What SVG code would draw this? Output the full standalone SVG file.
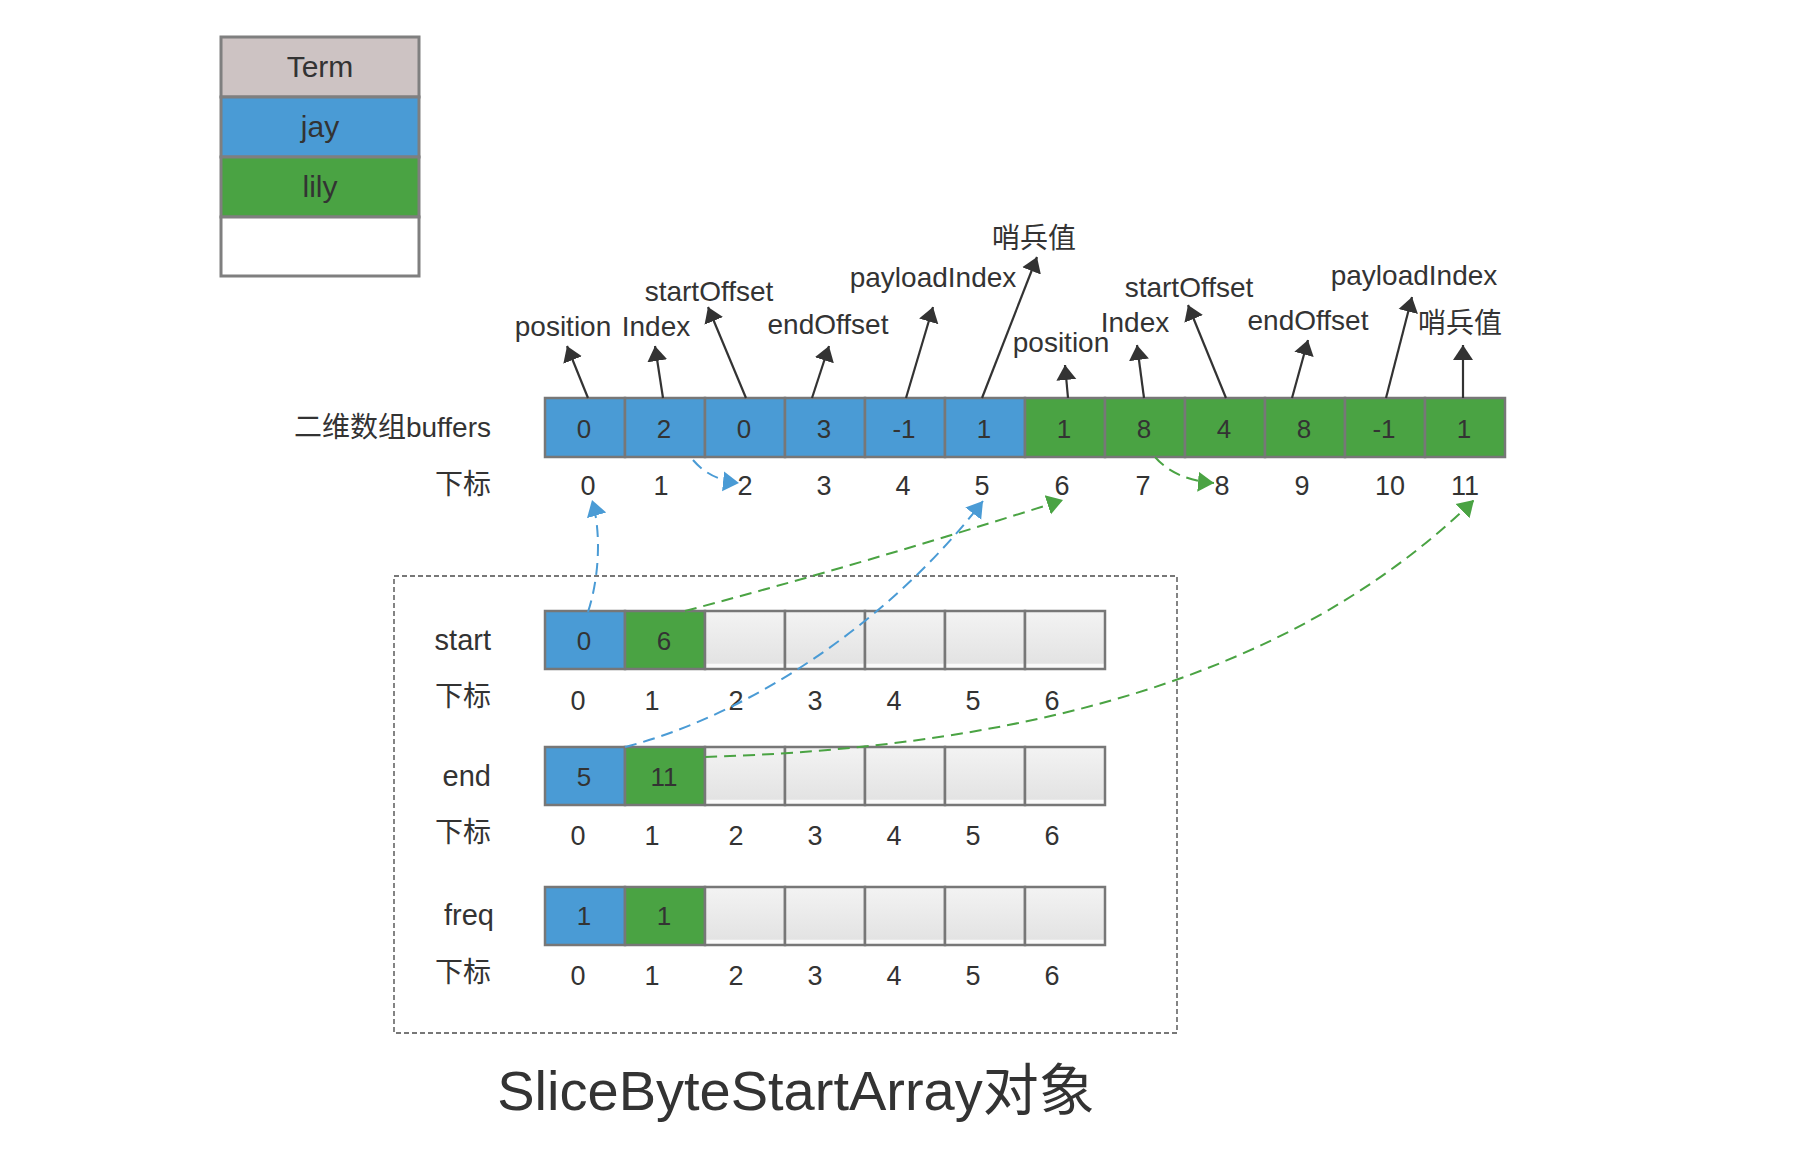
<svg xmlns="http://www.w3.org/2000/svg" width="1818" height="1170" viewBox="0 0 1818 1170">
<style>
text{font-family:"Liberation Sans","Noto Sans CJK SC",sans-serif;fill:#333}
.c{text-anchor:middle}
.e{text-anchor:end}
.lg{font-size:30px}
.lbl{font-size:28px}
.nm{font-size:29px}
.d{font-size:26px}
.ix{font-size:27px}
.blue{fill:#4A9BD5;stroke:#777;stroke-width:2.5}
.green{fill:#4AA343;stroke:#777;stroke-width:2.5}
.empty{fill:url(#eg);stroke:#777;stroke-width:2.5}
.ar{stroke:#333;stroke-width:2.2;fill:none;marker-end:url(#mk)}
.db{stroke:#4A9BD5;stroke-width:2;fill:none;stroke-dasharray:12 7;marker-end:url(#mb)}
.dg{stroke:#4AA343;stroke-width:2;fill:none;stroke-dasharray:12 7;marker-end:url(#mg)}
</style>
<defs>
<linearGradient id="eg" x1="0" y1="0" x2="0" y2="1">
<stop offset="0" stop-color="#f3f3f3"/>
<stop offset="0.9" stop-color="#e3e3e3"/>
<stop offset="0.92" stop-color="#fafafa"/>
<stop offset="1" stop-color="#fafafa"/>
</linearGradient>
<marker id="mk" markerUnits="userSpaceOnUse" markerWidth="18" markerHeight="24" refX="15" refY="11" orient="auto"><path d="M0,1 L15,11 L0,21 z" fill="#333"/></marker>
<marker id="mb" markerUnits="userSpaceOnUse" markerWidth="19" markerHeight="24" refX="16" refY="11" orient="auto"><path d="M0,1 L16,11 L0,21 z" fill="#4A9BD5"/></marker>
<marker id="mg" markerUnits="userSpaceOnUse" markerWidth="19" markerHeight="24" refX="16" refY="11" orient="auto"><path d="M0,1 L16,11 L0,21 z" fill="#4AA343"/></marker>
</defs>
<rect width="1818" height="1170" fill="#fff"/>

<g id="legend">
<rect x="221" y="37" width="198" height="60" fill="#CDC3C3" stroke="#7f7f7f" stroke-width="3"/>
<rect x="221" y="97" width="198" height="60" fill="#4A9BD5" stroke="#7f7f7f" stroke-width="3"/>
<rect x="221" y="157" width="198" height="60" fill="#4AA343" stroke="#7f7f7f" stroke-width="3"/>
<rect x="221" y="217" width="198" height="59" fill="#fff" stroke="#7f7f7f" stroke-width="3"/>
<text class="lg c" x="320" y="77">Term</text>
<text class="lg c" x="320" y="137">jay</text>
<text class="lg c" x="320" y="197">lily</text>
</g>

<g id="buffers">
<text class="lbl e" x="491" y="437">二维数组buffers</text>
<rect class="blue" x="545" y="398" width="80" height="59"/>
<rect class="blue" x="625" y="398" width="80" height="59"/>
<rect class="blue" x="705" y="398" width="80" height="59"/>
<rect class="blue" x="785" y="398" width="80" height="59"/>
<rect class="blue" x="865" y="398" width="80" height="59"/>
<rect class="blue" x="945" y="398" width="80" height="59"/>
<rect class="green" x="1025" y="398" width="80" height="59"/>
<rect class="green" x="1105" y="398" width="80" height="59"/>
<rect class="green" x="1185" y="398" width="80" height="59"/>
<rect class="green" x="1265" y="398" width="80" height="59"/>
<rect class="green" x="1345" y="398" width="80" height="59"/>
<rect class="green" x="1425" y="398" width="80" height="59"/>
<g class="d">
<text class="c" x="584" y="438">0</text>
<text class="c" x="664" y="438">2</text>
<text class="c" x="744" y="438">0</text>
<text class="c" x="824" y="438">3</text>
<text class="c" x="904" y="438">-1</text>
<text class="c" x="984" y="438">1</text>
<text class="c" x="1064" y="438">1</text>
<text class="c" x="1144" y="438">8</text>
<text class="c" x="1224" y="438">4</text>
<text class="c" x="1304" y="438">8</text>
<text class="c" x="1384" y="438">-1</text>
<text class="c" x="1464" y="438">1</text>
</g>
<text class="lbl e" x="491" y="494">下标</text>
<g class="ix">
<text class="c" x="588" y="495">0</text>
<text class="c" x="661" y="495">1</text>
<text class="c" x="745" y="495">2</text>
<text class="c" x="824" y="495">3</text>
<text class="c" x="903" y="495">4</text>
<text class="c" x="982" y="495">5</text>
<text class="c" x="1062" y="495">6</text>
<text class="c" x="1143" y="495">7</text>
<text class="c" x="1222" y="495">8</text>
<text class="c" x="1302" y="495">9</text>
<text class="c" x="1390" y="495">10</text>
<text class="c" x="1465" y="495">11</text>
</g>
</g>

<g id="annotations" class="lbl">
<text class="c" x="563" y="336">position</text>
<text class="c" x="656" y="336">Index</text>
<text class="c" x="709" y="301">startOffset</text>
<text class="c" x="828" y="334">endOffset</text>
<text class="c" x="933" y="287">payloadIndex</text>
<text class="c" x="1034" y="248">哨兵值</text>
<text class="c" x="1061" y="352">position</text>
<text class="c" x="1135" y="332">Index</text>
<text class="c" x="1189" y="297">startOffset</text>
<text class="c" x="1308" y="330">endOffset</text>
<text class="c" x="1414" y="285">payloadIndex</text>
<text class="c" x="1460" y="333">哨兵值</text>
</g>

<g id="slice-box">
<rect x="394" y="576" width="783" height="457" fill="none" stroke="#777" stroke-width="1.8" stroke-dasharray="5 3"/>
</g>

<g id="start-array">
<text class="nm e" x="491" y="650">start</text>
<rect class="blue" x="545" y="611" width="80" height="58"/>
<rect class="green" x="625" y="611" width="80" height="58"/>
<rect class="empty" x="705" y="611" width="80" height="58"/>
<rect class="empty" x="785" y="611" width="80" height="58"/>
<rect class="empty" x="865" y="611" width="80" height="58"/>
<rect class="empty" x="945" y="611" width="80" height="58"/>
<rect class="empty" x="1025" y="611" width="80" height="58"/>
<text class="d c" x="584" y="650">0</text>
<text class="d c" x="664" y="650">6</text>
<text class="lbl e" x="491" y="706">下标</text>
<g class="ix">
<text class="c" x="578" y="710">0</text>
<text class="c" x="652" y="710">1</text>
<text class="c" x="736" y="710">2</text>
<text class="c" x="815" y="710">3</text>
<text class="c" x="894" y="710">4</text>
<text class="c" x="973" y="710">5</text>
<text class="c" x="1052" y="710">6</text>
</g>
</g>

<g id="end-array">
<text class="nm e" x="491" y="786">end</text>
<rect class="blue" x="545" y="747" width="80" height="58"/>
<rect class="green" x="625" y="747" width="80" height="58"/>
<rect class="empty" x="705" y="747" width="80" height="58"/>
<rect class="empty" x="785" y="747" width="80" height="58"/>
<rect class="empty" x="865" y="747" width="80" height="58"/>
<rect class="empty" x="945" y="747" width="80" height="58"/>
<rect class="empty" x="1025" y="747" width="80" height="58"/>
<text class="d c" x="584" y="786">5</text>
<text class="d c" x="664" y="786">11</text>
<text class="lbl e" x="491" y="842">下标</text>
<g class="ix">
<text class="c" x="578" y="845">0</text>
<text class="c" x="652" y="845">1</text>
<text class="c" x="736" y="845">2</text>
<text class="c" x="815" y="845">3</text>
<text class="c" x="894" y="845">4</text>
<text class="c" x="973" y="845">5</text>
<text class="c" x="1052" y="845">6</text>
</g>
</g>

<g id="freq-array">
<text class="nm e" x="494" y="925">freq</text>
<rect class="blue" x="545" y="887" width="80" height="58"/>
<rect class="green" x="625" y="887" width="80" height="58"/>
<rect class="empty" x="705" y="887" width="80" height="58"/>
<rect class="empty" x="785" y="887" width="80" height="58"/>
<rect class="empty" x="865" y="887" width="80" height="58"/>
<rect class="empty" x="945" y="887" width="80" height="58"/>
<rect class="empty" x="1025" y="887" width="80" height="58"/>
<text class="d c" x="584" y="925">1</text>
<text class="d c" x="664" y="925">1</text>
<text class="lbl e" x="491" y="982">下标</text>
<g class="ix">
<text class="c" x="578" y="985">0</text>
<text class="c" x="652" y="985">1</text>
<text class="c" x="736" y="985">2</text>
<text class="c" x="815" y="985">3</text>
<text class="c" x="894" y="985">4</text>
<text class="c" x="973" y="985">5</text>
<text class="c" x="1052" y="985">6</text>
</g>
</g>

<g id="title">
<text class="c" x="796" y="1110" style="font-size:56px">SliceByteStartArray对象</text>
</g>

<g id="connectors">
<path class="ar" d="M588,398 L567,346"/>
<path class="ar" d="M663,398 L655,346"/>
<path class="ar" d="M746,398 L708,307"/>
<path class="ar" d="M812,398 L829,346"/>
<path class="ar" d="M906,398 L933,307"/>
<path class="ar" d="M982,398 L1037,257"/>
<path class="ar" d="M1068,398 L1065,365"/>
<path class="ar" d="M1144,398 L1137,345"/>
<path class="ar" d="M1226,398 L1188,305"/>
<path class="ar" d="M1292,398 L1308,340"/>
<path class="ar" d="M1386,398 L1412,297"/>
<path class="ar" d="M1463,398 L1463,345"/>
<path class="db" d="M693,460 Q710,480 739,483"/>
<path class="dg" d="M1155,457 Q1175,480 1214,483"/>
<path class="db" d="M588,612 C600,575 601,530 592,500"/>
<path class="dg" d="M685,611 Q870,562 1063,500"/>
<path class="db" d="M625,747 C755,713 893,618 983,501"/>
<path class="dg" d="M705,757 C1105,745 1330,640 1474,500"/>
</g>
</svg>
